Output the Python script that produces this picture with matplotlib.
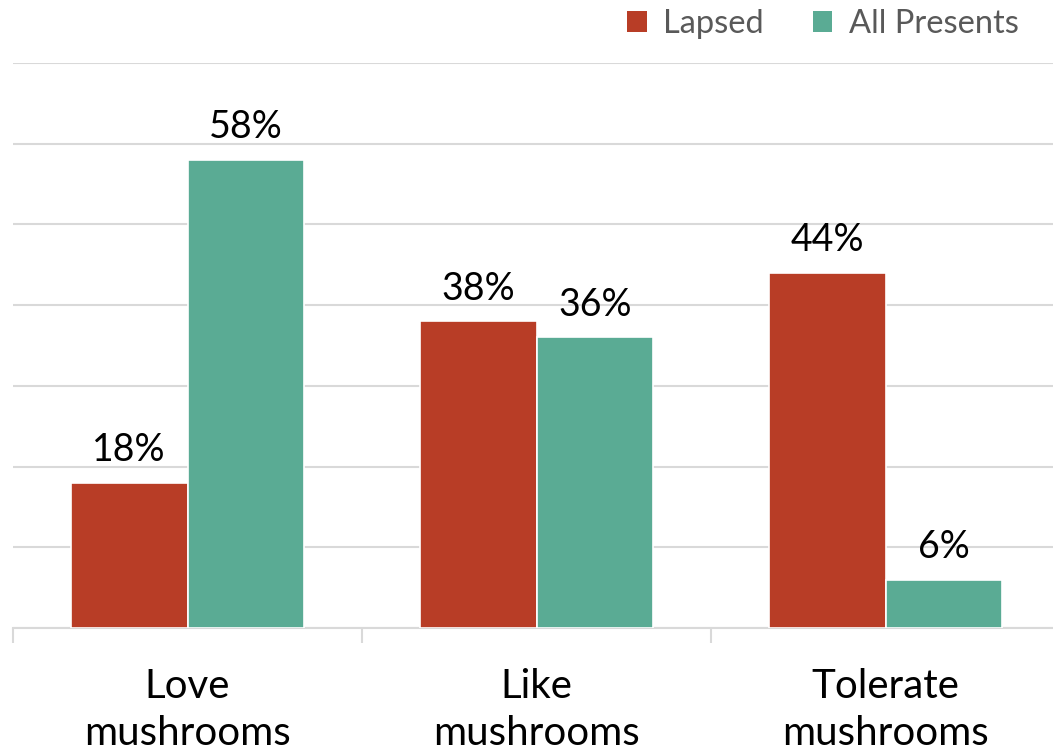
import matplotlib
matplotlib.use("Agg")
import matplotlib.pyplot as plt
from matplotlib.patches import Patch
from matplotlib.transforms import blended_transform_factory
import numpy as np

categories = ["Love\nmushrooms", "Like\nmushrooms", "Tolerate\nmushrooms"]
series_names = ["Lapsed", "All Presents"]
lapsed = [18, 38, 44]
all_presents = [58, 36, 6]
colors = ["#B83D26", "#5AAB94"]

plt.rcParams['font.family'] = ['Lato', 'DejaVu Sans']

W, H = 1053, 753
fig = plt.figure(figsize=(W / 100, H / 100), dpi=100)
left, right, top, bottom = 13, 1060, 63, 628
ax = fig.add_axes([left / W, 1 - bottom / H, (right - left) / W, (bottom - top) / H])

x = np.arange(len(categories))
bw = 0.335
off = 0.1675
for vals, dx, c in [(lapsed, -off, colors[0]), (all_presents, off, colors[1])]:
    bars = ax.bar(x + dx, vals, width=bw, color=c, edgecolor="white", linewidth=1.2, zorder=3)
    for b, v in zip(bars, vals):
        ax.annotate(f"{v}%", (b.get_x() + b.get_width() / 2, v), xytext=(0, 15.5),
                    textcoords="offset points", ha="center", va="baseline",
                    fontsize=27, color="black")

ax.set_xlim(-0.5, len(categories) - 0.5)
ax.set_ylim(0, 70)
ax.set_yticks(np.arange(0, 71, 10))
ax.yaxis.grid(True, color="#d9d9d9", linewidth=1.5, zorder=0)
ax.set_axisbelow(True)
ax.tick_params(axis="y", left=False, labelleft=False)
for s in ["top", "right", "left"]:
    ax.spines[s].set_visible(False)
ax.spines["bottom"].set_color("#d9d9d9")
ax.spines["bottom"].set_linewidth(1.5)
ax.set_xticks([])
ax.set_xticks(np.arange(-0.5, len(categories)), minor=True)
ax.tick_params(axis="x", which="minor", length=11, width=1.5, color="#d9d9d9", labelbottom=False)

tr = blended_transform_factory(ax.transData, fig.transFigure)
for i, cat in enumerate(categories):
    lines = cat.split("\n")
    for j, ln in enumerate(lines):
        yb = [698, 745][j]
        ax.text(i, 1 - yb / H, ln, transform=tr, ha="center", va="baseline",
                fontsize=29, color="black", clip_on=False)

handles = [Patch(facecolor=c, edgecolor="none") for c in colors]
fig.legend(handles, series_names, loc="center", bbox_to_anchor=(823 / W, 1 - 24 / H),
           ncol=2, frameon=False, fontsize=23.5, labelcolor="#595959",
           handlelength=0.6, handleheight=0.6, handletextpad=0.5, columnspacing=1.5)

fig.savefig("out.png", dpi=100)
